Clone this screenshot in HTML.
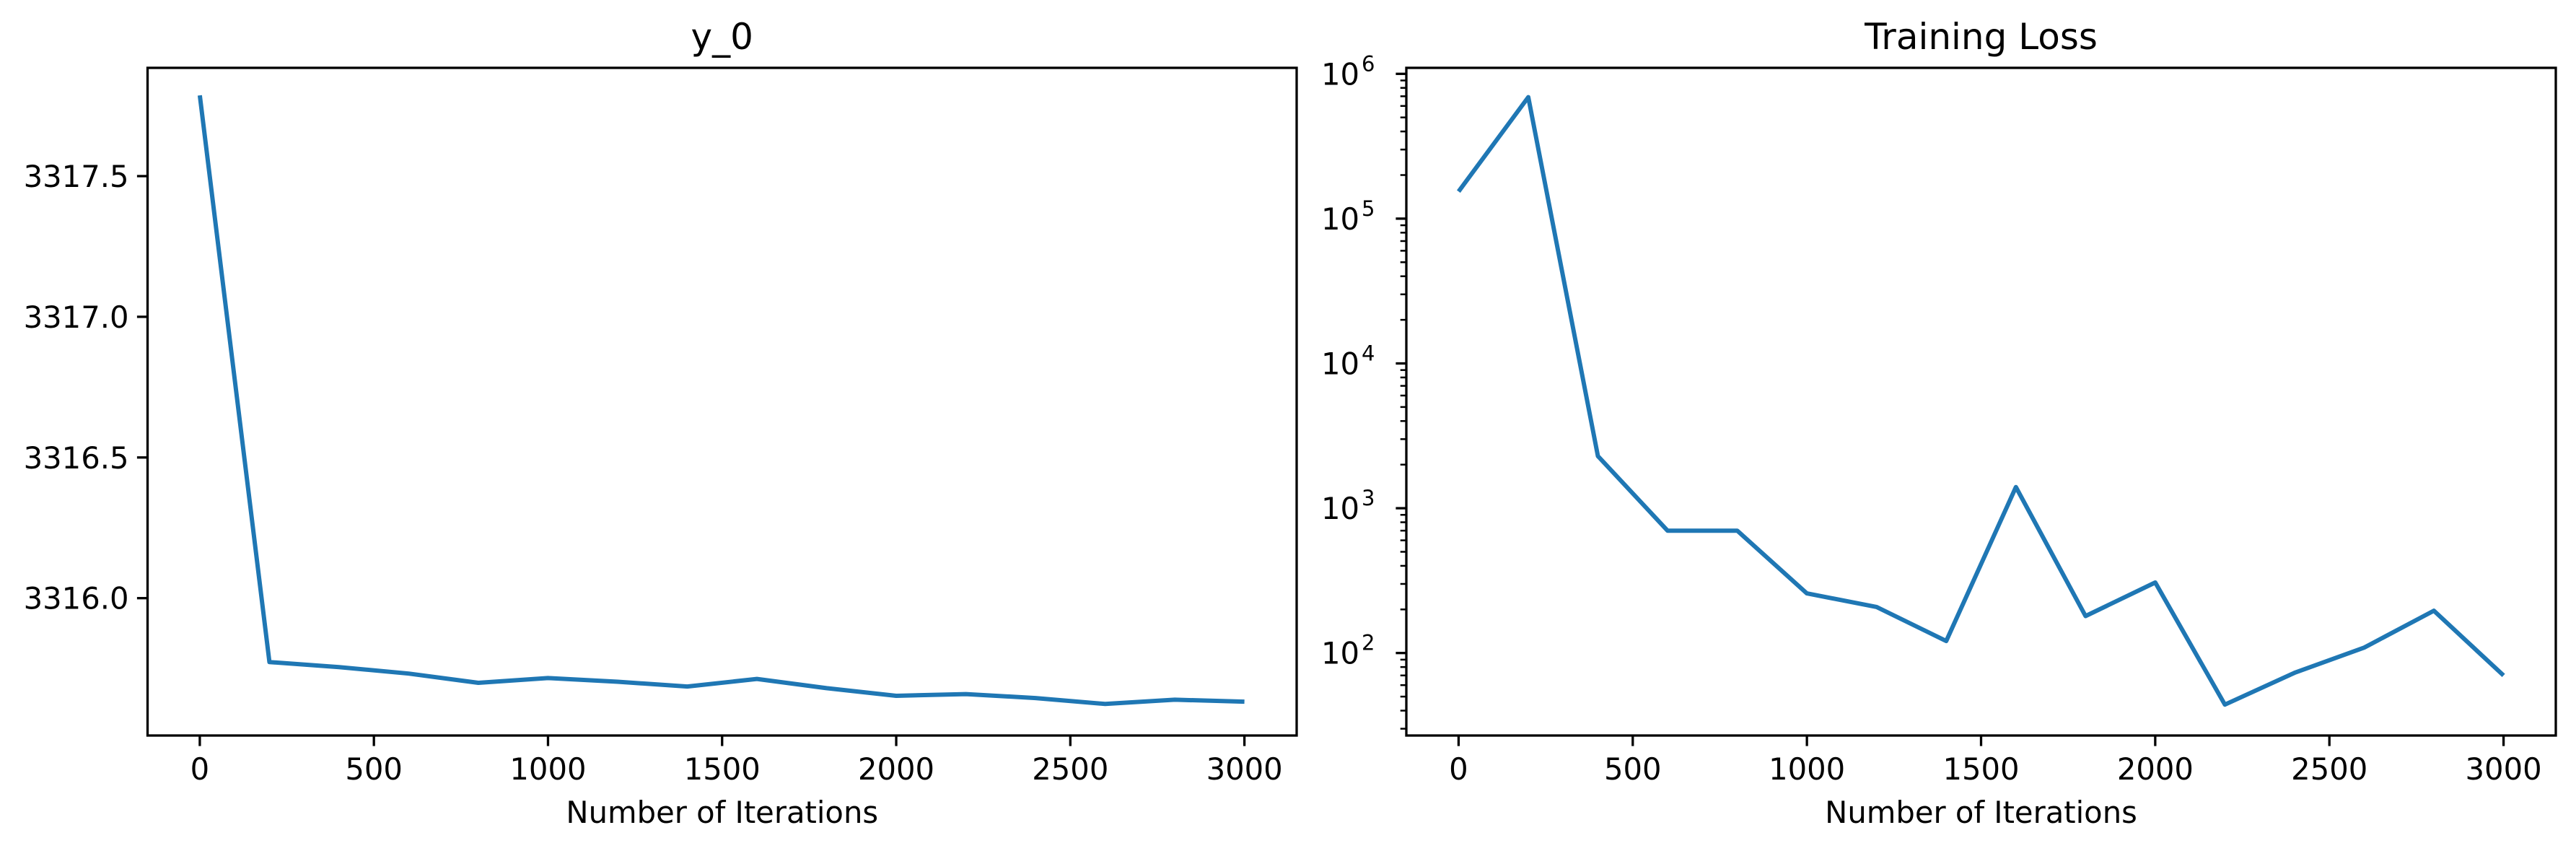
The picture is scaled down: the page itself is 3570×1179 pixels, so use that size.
<!DOCTYPE html>
<html><head><meta charset="utf-8"><style>
html,body{margin:0;padding:0;background:#fff;}
svg{display:block;font-family:"DejaVu Sans","Liberation Sans",sans-serif;}
</style></head><body>
<svg id="fig" width="3570" height="1179" viewBox="0 0 3570 1179" xmlns="http://www.w3.org/2000/svg">
<rect width="3570" height="1179" fill="#fff"/>
<g id="left"></g>
<g id="right"></g>
</svg>
<script>
const iterations = [0,200,400,600,800,1000,1200,1400,1600,1800,2000,2200,2400,2600,2800,3000];
const y0Values = [3317.787,3315.773,3315.755,3315.732,3315.699,3315.716,3315.703,3315.686,3315.713,3315.680,3315.653,3315.659,3315.645,3315.624,3315.639,3315.632];
const lossValues = [154000,690000,2290,700,700,258,208,121,1400,180,307,44,73,109,196,70];
const xTicks = [0,500,1000,1500,2000,2500,3000];
const y0Ticks = [3316.0,3316.5,3317.0,3317.5];
const lossTickExps = [2,3,4,5,6];

const NS="http://www.w3.org/2000/svg";
function mk(parent,tag,attrs,text){const e=document.createElementNS(NS,tag);for(const k in attrs)e.setAttribute(k,attrs[k]);if(text!==undefined)e.textContent=text;parent.appendChild(e);return e;}

const TOP=94, BOT=1019;
function xScale(left,right){const w=right-left;return v=>left+(v+150)/3300*w;}

function drawFrame(g,left,right,title,xs){
  const t=mk(g,'text',{x:(left+right)/2,y:68,'text-anchor':'middle','font-size':50,fill:'#000'},title);
  
  
  xTicks.forEach(v=>{
    const x=xs(v);
    const tk=mk(g,'line',{x1:x,x2:x,y1:BOT,y2:BOT+14.6,stroke:'#000','stroke-width':3.3});
    
    
    const tl=mk(g,'text',{x:x,y:1080,'text-anchor':'middle','font-size':41.7,fill:'#000'},String(v));
    
    
  });
  const xl=mk(g,'text',{x:(left+right)/2,y:1140,'text-anchor':'middle','font-size':41.7,fill:'#000'},'Number of Iterations');
  
  
}
function drawBox(g,left,right){
  const r=mk(g,'rect',{x:left,y:TOP,width:right-left,height:BOT-TOP,fill:'none',stroke:'#000','stroke-width':3.3});
  
  
}

// Left chart
(function(){
  const g=document.getElementById('left');
  const L=204.5,R=1797;
  const xs=xScale(L,R);
  const ys=v=>244+(3317.5-v)*389.8;
  drawFrame(g,L,R,'y_0',xs);
  y0Ticks.forEach(v=>{
    const y=ys(v);
    const tk=mk(g,'line',{x1:L-14.6,x2:L,y1:y,y2:y,stroke:'#000','stroke-width':3.3});
    
    
    const tl=mk(g,'text',{x:L-26,y:y+15,'text-anchor':'end','font-size':41.7,fill:'#000'},v.toFixed(1));
    
    
  });
  const pts=iterations.map((it,i)=>xs(it).toFixed(1)+','+ys(y0Values[i]).toFixed(1)).join(' ');
  const pl=mk(g,'polyline',{points:pts,fill:'none',stroke:'#1f77b4','stroke-width':6,'stroke-linejoin':'round','stroke-linecap':'butt'});
  
  
  drawBox(g,L,R);
})();

// Right chart
(function(){
  const g=document.getElementById('right');
  const L=1949,R=3542;
  const xs=xScale(L,R);
  const ys=v=>102.3+(6-Math.log10(v))*200.6;
  drawFrame(g,L,R,'Training Loss',xs);
  // minor ticks
  for(let e=1;e<=6;e++){
    for(let m=2;m<=9;m++){
      const v=m*Math.pow(10,e);
      const y=ys(v);
      if(y<TOP||y>BOT)continue;
      const mt=mk(g,'line',{x1:L-8.3,x2:L,y1:y,y2:y,stroke:'#000','stroke-width':2.5});
      
      
    }
  }
  lossTickExps.forEach(e=>{
    const y=ys(Math.pow(10,e));
    const tk=mk(g,'line',{x1:L-14.6,x2:L,y1:y,y2:y,stroke:'#000','stroke-width':3.3});
    
    
    const tl=mk(g,'text',{x:L-65,y:y+15,'text-anchor':'end','font-size':41.7,fill:'#000'},'10');
    
    
    const sp=mk(g,'text',{x:L-62,y:y-4,'text-anchor':'start','font-size':29,fill:'#000'},String(e));
    
    
  });
  const pts=iterations.map((it,i)=>xs(it).toFixed(1)+','+ys(lossValues[i]).toFixed(1)).join(' ');
  const pl=mk(g,'polyline',{points:pts,fill:'none',stroke:'#1f77b4','stroke-width':6,'stroke-linejoin':'round','stroke-linecap':'butt'});
  
  
  drawBox(g,L,R);
})();
</script>
</body></html>
